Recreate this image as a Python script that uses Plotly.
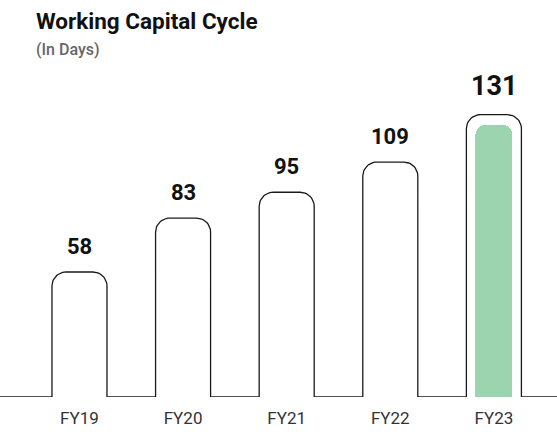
import numpy as np
import plotly.graph_objects as go

categories = ["FY19", "FY20", "FY21", "FY22", "FY23"]
values = [58, 83, 95, 109, 131]
highlight = "FY23"

W, H = 557, 432
MB = 35
XMIN, XMAX = -0.767, 4.609
YMAX = 184.2
BAR_W = 0.531            # category units
R_PX = 14                 # outline corner radius (px)
INSET_X_PX, INSET_TOP_PX = 9, 10

px_x = W / (XMAX - XMIN)
px_y = (H - MB) / YMAX
rx, ry = R_PX / px_x, R_PX / px_y

# build the outline path from data values
xs, ys = [XMIN], [0]
t = np.linspace(0, np.pi / 2, 14)
for i, v in enumerate(values):
    L, R = i - BAR_W / 2, i + BAR_W / 2
    xs += [L, L]
    ys += [0, v - ry]
    xs += list(L + rx - rx * np.cos(t))
    ys += list(v - ry + ry * np.sin(t))
    xs += list(R - rx + rx * np.sin(t))
    ys += list(v - ry + ry * np.cos(t))
    xs += [R, R]
    ys += [v - ry, 0]
xs.append(XMAX)
ys.append(0)

fig = go.Figure()

hi = categories.index(highlight)
inner_val = values[hi] - INSET_TOP_PX / px_y
fig.add_trace(go.Bar(
    x=[hi], y=[inner_val], width=[BAR_W - 2 * INSET_X_PX / px_x],
    marker=dict(color="#9dd4b0", line=dict(width=0), cornerradius=11),
    hoverinfo="skip", showlegend=False,
))

fig.add_trace(go.Scatter(
    x=xs, y=ys, mode="lines",
    line=dict(color="#1a1a1a", width=1.3),
    hoverinfo="skip", showlegend=False,
))

for i, v in enumerate(values):
    big = categories[i] == highlight
    fig.add_annotation(
        x=i, y=v, xref="x", yref="y", text=str(v), showarrow=False,
        yanchor="bottom", yshift=11,
        font=dict(family="Roboto", size=27 if big else 22, color="#111", weight="bold"),
    )

fig.add_annotation(
    x=34 / W, y=1, xref="paper", yref="paper", xanchor="left", yanchor="top",
    yshift=-6, text="<b>Working Capital Cycle</b>", showarrow=False,
    font=dict(family="Roboto", size=22.5, color="#111"),
)
fig.add_annotation(
    x=34 / W, y=1, xref="paper", yref="paper", xanchor="left", yanchor="top",
    yshift=-38, text="(In Days)", showarrow=False,
    font=dict(family="Roboto", size=16, color="#666", weight=500),
)

fig.update_layout(
    width=W, height=H,
    margin=dict(l=0, r=0, t=0, b=MB),
    paper_bgcolor="white", plot_bgcolor="white",
    xaxis=dict(range=[XMIN, XMAX], tickmode="array", tickvals=list(range(len(categories))),
               ticktext=categories, showgrid=False, zeroline=False, showline=False,
               ticks="outside", ticklen=6, tickcolor="rgba(0,0,0,0)",
               tickfont=dict(family="Roboto", size=17, color="#333"), automargin=False,
               fixedrange=True),
    yaxis=dict(range=[0, YMAX], visible=False, fixedrange=True),
    bargap=0,
)

fig.write_html(
    "out.html",
    config={"displayModeBar": False, "staticPlot": True},
    post_script="document.body.style.margin='0';document.body.style.overflow='hidden';",
)
